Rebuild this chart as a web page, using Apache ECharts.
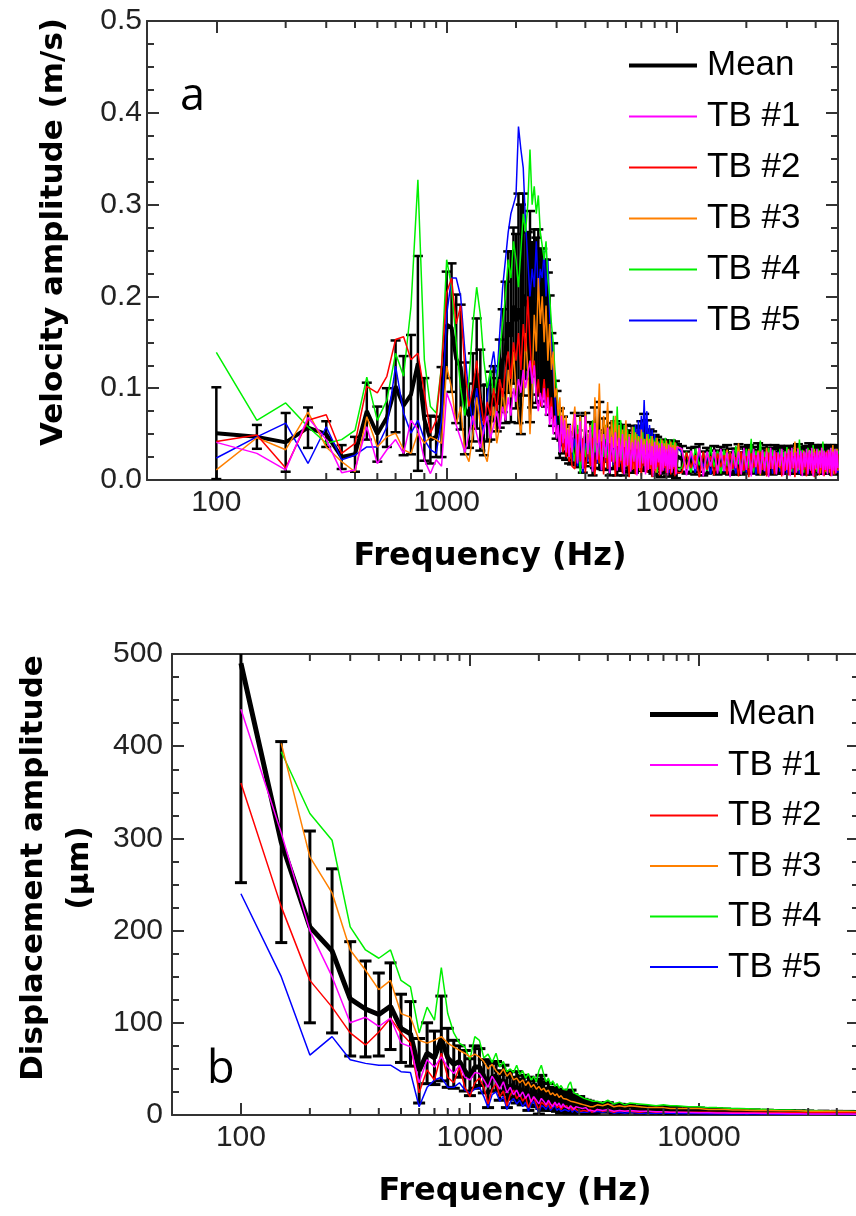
<!DOCTYPE html>
<html><head><meta charset="utf-8">
<script src="https://cdn.jsdelivr.net/npm/echarts@6/dist/echarts.min.js"></script>
<style>
html,body{margin:0;padding:0;background:#fff;overflow:hidden;width:856px;height:1216px;position:relative}
#c1{position:absolute;left:0;top:0;width:862px;height:608px}
#c2{position:absolute;left:0;top:608px;width:862px;height:608px}
</style></head><body><div id="c1"></div><div id="c2"></div>
<script>
// ---------- shared ----------
const TB_NAMES = ['TB #1','TB #2','TB #3','TB #4','TB #5'];
const TB_COLORS = ['#ff00ff','#ff0000','#ff8000','#00f000','#0000ff'];
const xMinorTicks = [200,300,400,500,600,700,800,900,2000,3000,4000,5000,6000,7000,8000,9000,20000,30000,40000];
const yTicksVel = [0,0.1,0.2,0.3,0.4,0.5];
const yTicksDisp = [0,100,200,300,400,500];
const freqLow = [100,150,200,250,300,350,400,450,500,550,
600,650,700,750,800,850,900,950,1000,1050,
1100,1150,1200,1250,1300,1350,1400,1450,1500,1550,
1600,1650,1700,1750,1800,1850,1900,1950,2000,2050,
2100,2150,2200,2250,2300,2350,2400,2450,2500,2550,
2600,2650,2700,2750,2800,2850,2900,2950,3000,3050,
3100,3150,3200,3250,3300,3350,3400,3450,3500];

// ---------- panel a: velocity (m/s) ----------
const velFreqHigh = [3600,3700,3800,3900,4000,4100,4200,4300,4400,4500,
4600,4700,4800,4900,5000,5100,5200,5300,5400,5500,
5600,5700,5800,5900,6000,6100,6200,6300,6400,6500,
6600,6700,6800,6900,7000,7100,7200,7300,7400,7500,
7600,7700,7800,7900,8000,8100,8200,8300,8400,8500,
8600,8700,8800,8900,9000,9100,9200,9300,9400,9500,
9600,9700,9800,9900,10000,
10500,11000,11500,12000,12500,13000,13500,14000,14500,15000,
15500,16000,16500,17000,17500,18000,18500,19000,19500,20000,
20500,21000,21500,22000,22500,23000,23500,24000,24500,25000,
25500,26000,26500,27000,27500,28000,28500,29000,29500,30000,
30500,31000,31500,32000,32500,33000,33500,34000,34500,35000,
35500,36000,36500,37000,37500,38000,38500,39000,39500,40000,
40500,41000,41500,42000,42500,43000,43500,44000,44500,45000,
45500,46000,46500,47000,47500,48000,48500,49000,49500,50000];

const velTB1Low = [.041,.029,.011,.068,.044,.008,.011,.058,.018,.033,
.044,.029,.065,.055,.022,.007,.022,.015,.095,.08,
.06,.045,.03,.05,.07,.05,.035,.055,.07,.045,
.06,.075,.055,.08,.065,.09,.07,.1,.085,.11,
.095,.12,.1,.115,.13,.105,.125,.09,.075,.095,
.08,.1,.07,.09,.06,.08,.05,.07,.045,.06,
.03,.07,.04,.065,.03,.055,.025,.06,.03];
const velTB1High = [.072,.018,.064,.012,.07,.028,.058,.009,.062,.022,
.055,.011,.05,.024,.057,.007,.047,.019,.052,.01,
.046,.021,.05,.006,.043,.016,.047,.009,.041,.02,
.044,.005,.042,.013,.045,.018,.039,.006,.043,.011,
.04,.016,.037,.004,.041,.012,.038,.019,.035,.006,
.04,.01,.037,.015,.034,.005,.038,.012,.036,.008,
.035,.014,.033,.006,.036,
.034,.005,.032,.012,.035,.004,.031,.015,.033,.007,
.034,.01,.03,.003,.033,.013,.031,.006,.035,.011,
.032,.004,.034,.014,.03,.007,.033,.01,.031,.003,
.035,.012,.032,.006,.03,.015,.034,.005,.031,.011,
.033,.004,.035,.013,.03,.008,.034,.011,.032,.004,
.031,.014,.034,.006,.032,.01,.035,.004,.03,.012,
.034,.007,.031,.013,.035,.005,.032,.011,.03,.006,
.033,.012,.035,.004,.031,.01,.034,.007,.032,.013];

const velTB2Low = [.042,.049,.013,.065,.071,.029,.04,.102,.095,.113,
.153,.156,.131,.138,.095,.051,.065,.124,.204,.22,
.17,.19,.12,.08,.1,.13,.09,.06,.085,.07,
.1,.075,.11,.09,.12,.14,.11,.15,.13,.16,
.12,.17,.14,.2,.15,.11,.13,.09,.11,.08,
.09,.11,.08,.1,.07,.09,.06,.07,.05,.055,
.035,.05,.03,.045,.025,.04,.02,.035,.015];
const velTB2High = [.012,.05,.02,.045,.008,.04,.015,.046,.005,.038,
.018,.042,.006,.035,.012,.04,.02,.033,.004,.037,
.014,.03,.007,.036,.016,.028,.003,.033,.011,.03,
.006,.034,.013,.028,.004,.031,.015,.027,.008,.032,
.012,.029,.003,.026,.01,.03,.014,.027,.005,.024,
.009,.03,.013,.026,.004,.031,.011,.027,.006,.025,
.012,.028,.004,.03,.008,
.008,.03,.013,.027,.003,.031,.011,.026,.005,.029,
.014,.027,.006,.03,.012,.025,.004,.031,.01,.026,
.003,.029,.013,.027,.007,.031,.011,.025,.004,.03,
.012,.026,.006,.03,.014,.028,.004,.025,.01,.029,
.005,.031,.012,.026,.003,.03,.013,.027,.006,.029,
.011,.025,.004,.03,.012,.028,.007,.026,.003,.031,
.013,.027,.005,.03,.011,.026,.004,.029,.009,.032,
.012,.026,.004,.03,.01,.027,.006,.031,.011,.028];

const velTB3Low = [.011,.046,.033,.074,.036,.02,.009,.069,.036,.047,
.051,.033,.029,.051,.04,.047,.044,.04,.124,.1,
.06,.08,.03,.02,.05,.09,.06,.03,.02,.05,
.08,.04,.06,.1,.07,.12,.09,.14,.1,.07,
.05,.09,.16,.12,.05,.1,.18,.14,.22,.17,
.2,.15,.19,.13,.17,.12,.14,.09,.1,.07,
.09,.05,.08,.04,.07,.03,.06,.035,.05];
const velTB3High = [.08,.03,.07,.02,.075,.035,.06,.015,.09,.04,
.105,.03,.07,.045,.085,.02,.065,.035,.07,.025,
.06,.02,.055,.03,.065,.015,.05,.025,.058,.012,
.052,.022,.048,.01,.055,.02,.045,.015,.05,.018,
.045,.012,.048,.02,.042,.008,.046,.017,.04,.01,
.044,.015,.04,.02,.043,.008,.039,.014,.042,.01,
.038,.016,.041,.007,.037,
.033,.012,.031,.018,.034,.006,.03,.015,.032,.01,
.029,.017,.033,.008,.031,.014,.04,.006,.03,.016,
.034,.009,.03,.015,.032,.005,.031,.013,.035,.008,
.03,.016,.032,.007,.029,.013,.033,.009,.031,.015,
.034,.006,.03,.014,.042,.009,.035,.012,.029,.007,
.032,.015,.03,.008,.033,.013,.031,.005,.034,.011,
.03,.016,.032,.007,.035,.012,.029,.009,.031,.014,
.033,.008,.031,.015,.038,.006,.03,.013,.034,.01];

const velTB4Low = [.139,.065,.084,.058,.04,.044,.054,.112,.065,.087,
.138,.113,.189,.327,.131,.08,.073,.124,.24,.21,
.15,.1,.07,.11,.17,.21,.18,.13,.1,.12,
.09,.11,.14,.17,.2,.24,.22,.26,.24,.21,
.25,.29,.27,.3,.36,.3,.32,.29,.31,.27,
.27,.24,.26,.22,.2,.17,.15,.12,.1,.08,
.07,.05,.06,.04,.05,.035,.045,.03,.04];
const velTB4High = [.02,.06,.007,.045,.025,.05,.015,.065,.03,.055,
.018,.05,.025,.06,.012,.055,.03,.07,.02,.08,
.025,.065,.015,.06,.022,.055,.012,.05,.02,.058,
.015,.05,.022,.047,.01,.052,.018,.045,.012,.05,
.02,.048,.01,.044,.016,.046,.008,.042,.015,.045,
.012,.043,.018,.046,.009,.04,.015,.044,.01,.041,
.016,.045,.008,.04,.012,
.013,.031,.008,.034,.016,.03,.01,.036,.014,.032,
.007,.033,.015,.031,.011,.037,.017,.03,.009,.034,
.013,.045,.008,.032,.016,.043,.011,.031,.007,.035,
.015,.033,.01,.03,.017,.034,.008,.031,.012,.036,
.016,.032,.009,.034,.014,.031,.01,.044,.015,.033,
.008,.03,.013,.035,.017,.032,.01,.038,.014,.031,
.009,.034,.016,.032,.011,.042,.015,.03,.008,.033,
.013,.031,.01,.035,.016,.033,.009,.034,.014,.032];

const velTB5Low = [.024,.047,.062,.018,.058,.022,.027,.036,.036,.058,
.124,.073,.051,.065,.044,.033,.029,.065,.18,.22,
.22,.2,.14,.09,.06,.1,.07,.05,.09,.12,
.14,.11,.16,.21,.24,.27,.29,.3,.31,.385,
.36,.34,.28,.24,.2,.23,.21,.26,.2,.23,
.22,.25,.2,.24,.18,.15,.12,.09,.06,.05,
.03,.045,.035,.05,.03,.04,.025,.035,.02];
const velTB5High = [.045,.015,.05,.008,.04,.02,.055,.012,.045,.018,
.05,.01,.045,.02,.048,.008,.052,.016,.044,.012,
.048,.018,.05,.01,.055,.02,.05,.015,.058,.025,
.06,.03,.065,.035,.07,.04,.087,.045,.075,.03,
.06,.025,.055,.02,.05,.015,.045,.018,.042,.012,
.04,.015,.038,.01,.041,.016,.036,.008,.039,.013,
.037,.012,.04,.009,.035,
.03,.012,.029,.008,.031,.014,.028,.006,.03,.011,
.029,.009,.031,.013,.027,.007,.03,.012,.032,.008,
.028,.014,.03,.006,.029,.011,.031,.009,.027,.013,
.03,.007,.028,.012,.031,.009,.029,.014,.027,.006,
.031,.011,.028,.008,.03,.013,.027,.007,.03,.01,
.029,.012,.027,.007,.03,.011,.028,.009,.031,.013,
.027,.008,.03,.012,.028,.006,.031,.01,.029,.011,
.03,.009,.028,.013,.029,.007,.03,.011,.028,.008];

const velMeanLow = [.051,.047,.041,.057,.050,.025,.028,.075,.050,.068,
.102,.081,.093,.127,.066,.044,.047,.074,.169,.166,
.132,.123,.078,.070,.090,.116,.087,.065,.073,.081,
.094,.082,.105,.130,.139,.172,.156,.190,.173,.187,
.175,.202,.190,.195,.178,.169,.193,.174,.183,.169,
.172,.170,.160,.156,.136,.122,.104,.088,.071,.063,
.051,.053,.049,.048,.041,.040,.035,.039,.031];
const velMeanHigh = [.046,.035,.042,.026,.044,.035,.041,.029,.046,.035,
.049,.029,.039,.037,.043,.026,.043,.035,.038,.033,
.039,.031,.035,.028,.04,.027,.032,.026,.038,.029,
.035,.028,.038,.027,.037,.032,.041,.028,.038,.028,
.035,.026,.031,.023,.032,.022,.03,.025,.027,.019,
.029,.023,.029,.023,.026,.02,.028,.021,.027,.019,
.028,.023,.025,.018,.026,
.023,.019,.022,.021,.024,.018,.021,.02,.023,.019,
.022,.02,.023,.018,.021,.02,.024,.018,.022,.021,
.023,.02,.022,.02,.024,.019,.021,.02,.023,.019,
.022,.02,.023,.019,.022,.022,.023,.019,.021,.021,
.023,.019,.022,.02,.023,.02,.024,.02,.022,.019,
.021,.02,.022,.019,.024,.02,.022,.018,.023,.02,
.022,.02,.023,.02,.023,.019,.022,.02,.023,.019,
.022,.02,.023,.02,.022,.019,.023,.02,.022,.02];

const velSdLow = [.05,.013,.032,.022,.014,.013,.019,.031,.03,.032,
.05,.054,.065,.117,.045,.026,.022,.049,.058,.07,
.07,.068,.05,.035,.048,.06,.055,.038,.031,.037,
.03,.029,.048,.056,.077,.077,.093,.085,.095,.125,
.125,.11,.08,.075,.115,.09,.08,.09,.09,.083,
.08,.07,.08,.07,.065,.038,.045,.02,.026,.012,
.027,.01,.02,.01,.019,.009,.017,.012,.014];
const velSdHigh = [.027,.019,.028,.018,.029,.011,.022,.024,.033,.016,
.036,.017,.028,.017,.031,.021,.019,.022,.026,.028,
.019,.021,.022,.023,.02,.018,.022,.018,.021,.021,
.022,.017,.021,.016,.027,.013,.031,.016,.027,.016,
.02,.014,.022,.016,.017,.017,.017,.011,.015,.016,
.015,.014,.012,.016,.017,.016,.013,.017,.016,.014,
.012,.014,.017,.016,.013,
.014,.012,.013,.015,.015,.013,.014,.012,.014,.013,
.014,.013,.015,.012,.013,.014,.015,.012,.014,.013,
.015,.013,.014,.012,.016,.013,.014,.012,.015,.012,
.013,.014,.015,.012,.013,.015,.014,.012,.013,.014,
.014,.012,.015,.013,.014,.013,.015,.012,.014,.012,
.013,.014,.015,.012,.016,.013,.014,.012,.015,.013,
.014,.012,.015,.013,.015,.012,.014,.013,.015,.012,
.014,.013,.015,.012,.014,.013,.015,.012,.014,.013];

// ---------- panel b: displacement (µm) ----------
const dispFreqHigh = [3600,3800,4000,4250,4500,4750,5000,5500,6000,6500,
7000,7500,8000,9000,10000,11000,12000,13000,14000,15000,
17500,20000,22500,25000,27500,30000,35000,40000,45000,50000];

const dispTB1Low = [440,306,200,150,100,106,96,105,78,74,
35,60,52,63,52,45,54,41,38,46,
45,38,30,42,35,28,36,24,30,22,
27,20,25,18,23,14,20,16,12,18,
15,11,16,12,9,14,10,13,8,12,
9,11,7,10,8,6,9,7,8,6,
7,5,8,6,5,7,5,6,4];
const dispTB1High = [6,5,6,4,5,4,5,4,4,3.5,3.5,3,3,2.8,2.5,2.4,2.2,2.1,2,2,1.8,1.6,1.5,1.4,1.3,1.2,1.1,1,1,0.9];

const dispTB2Low = [360,226,146,117,89,76,90,105,89,78,
24,49,38,67,41,35,52,30,20,35,
40,30,12,28,34,20,26,10,22,27,
18,22,15,20,8,16,19,12,5,14,
12,9,14,7,11,13,8,10,6,9,
8,10,6,9,5,8,7,5,7,4,
6,5,7,4,5,6,3,5,4];
const dispTB2High = [6,4,5,3,5,4,4,3,4,3,3.5,3,3,3,3,3,2.8,2.8,2.7,2.7,2.6,2.6,2.5,2.5,2.5,2.5,2.5,2.5,2.5,2.5];

const dispTB3Low = [null,403,280,241,179,157,136,146,110,106,
81,78,81,85,78,74,70,67,63,66,
63,58,50,55,48,44,50,42,46,38,
40,35,38,32,36,30,33,28,31,27,
29,25,27,22,24,21,23,19,21,18,
19,17,18,15,16,14,15,13,14,12,
13,11,12,10,11,9,10,9,9];
const dispTB3High = [11,10,12,9,10,9,10,9,8,8,8,7,7,7,7,6,6,6,5.5,5.5,5,5,4.5,4.5,4.5,4,4,4,3.8,3.6];

const dispTB4Low = [null,394,327,298,204,179,170,179,146,139,
89,117,103,160,110,89,78,74,60,85,
81,62,66,57,67,52,58,47,50,46,
54,44,48,40,45,38,42,36,48,54,
44,36,40,33,37,31,34,29,32,28,
30,27,33,36,28,24,26,22,24,20,
21,18,20,17,18,16,17,15,16];
const dispTB4High = [15,13,16,12,14,11,13,12,11,10,11,10,10,9,9,8,8,7.5,7,7,6.5,6,5.5,5.5,5,5,4.5,4.2,4,3.8];

const dispTB5Low = [240,150,65,85,60,56,54,54,47,46,
9,30,38,41,30,30,35,27,24,28,
30,20,8,22,25,15,20,6,14,18,
12,16,9,14,4,12,15,8,3,10,
9,6,11,5,8,10,5,7,4,6,
6,8,4,7,3,6,5,3,5,3,
4,3,5,3,4,4,2,3,3];
const dispTB5High = [4,3,4,2,3,2,3,2,2,2,2,1.8,1.7,1.6,1.5,1.4,1.3,1.2,1.2,1.1,1,1,0.9,0.9,0.8,0.8,0.7,0.7,0.6,0.6];

const dispMeanLow = [490,296,204,178,126,115,109,118,94,88,
48,67,62,83,62,55,58,48,41,52,
52,42,33,41,42,32,38,26,32,30,
30,27,27,25,23,22,26,20,20,25,
22,17,22,16,18,18,16,16,14,15,
14,15,14,15,12,12,12,10,12,9,
10,8,10,8,9,8,7,8,7];
const dispMeanHigh = [8.4,7,8.6,6,7.4,6,7,6,5.8,5.3,5.6,5,4.9,4.7,4.6,4.2,4.1,3.9,3.7,3.7,3.4,3.2,3,2.9,2.8,2.7,2.6,2.5,2.4,2.3];

const dispSdLow = [238,109,104,89,62,52,45,47,37,35,
35,33,29,46,32,26,17,22,20,23,
20,18,25,15,16,16,16,18,15,11,
17,12,16,11,18,11,11,11,19,18,
14,12,12,11,12,8,12,9,12,9,
10,8,12,12,10,8,8,8,8,7,
7,6,6,6,6,5,6,5,5];
const dispSdHigh = [4.5,4,4.8,3.9,4.2,3.6,4,3.8,3.4,3.2,3.5,3.3,3.3,3,3,2.6,2.7,2.5,2.3,2.3,2.2,2,1.9,1.9,1.8,1.7,1.6,1.5,1.5,1.4];

// ---------- rendering ----------
const NUM_FONT = "'Liberation Sans', Arial, sans-serif";
const AXC = '#333';

function errRender(capW, lw) {
  return function (params, api) {
    const x = api.value(0);
    const p1 = api.coord([x, api.value(1)]);
    const p2 = api.coord([x, api.value(2)]);
    const mk = (a, b, c, d) => ({type: 'line', shape: {x1: a, y1: b, x2: c, y2: d}, style: {stroke: '#000', lineWidth: lw}});
    return {type: 'group', children: [
      mk(p1[0], p1[1], p2[0], p2[1]),
      mk(p1[0] - capW, p1[1], p1[0] + capW, p1[1]),
      mk(p2[0] - capW, p2[1], p2[0] + capW, p2[1])
    ]};
  };
}
function minorRender(params, api) {
  const cs = params.coordSys;
  const px = api.coord([api.value(0), api.value(1)])[0];
  const st = () => ({stroke: AXC, lineWidth: 2});
  return {type: 'group', children: [
    {type: 'line', shape: {x1: px, y1: cs.y, x2: px, y2: cs.y + 7}, style: st()},
    {type: 'line', shape: {x1: px, y1: cs.y + cs.height, x2: px, y2: cs.y + cs.height - 7}, style: st()}
  ]};
}

function build(cfg) {
  const pairs = vals => cfg.freq.map((f, i) => [f, vals[i] == null ? null : vals[i]]);
  const err = cfg.freq.map((f, i) => [f, cfg.mean[i] - cfg.sd[i], cfg.mean[i] + cfg.sd[i]]);
  const axisLine = {show: true, onZero: false, lineStyle: {color: AXC, width: 2}};
  const tick = {show: true, inside: true, length: 12, lineStyle: {color: AXC, width: 2}};
  const minor = {show: true, splitNumber: 4, length: 7, lineStyle: {color: AXC, width: 2}};
  const lbl = {fontFamily: NUM_FONT, fontSize: 30, color: '#222'};
  const xBase = {type: 'log', logBase: 10, min: 50, max: 50000, axisLine, axisTick: tick,
    splitLine: {show: false}, minorTick: {show: false}};
  const yBase = {type: 'value', min: 0, max: cfg.yTicks[cfg.yTicks.length - 1], interval: cfg.yTicks[1] - cfg.yTicks[0],
    axisLine, axisTick: tick, minorTick: minor, splitLine: {show: false}, minorSplitLine: {show: false}};
  const series = [];
  series.push({type: 'custom', name: 'errbar', renderItem: errRender(cfg.capW, cfg.errW), data: err,
    encode: {x: 0, y: [1, 2]}, clip: true, silent: true, z: 2});
  series.push({type: 'line', name: 'Mean', data: pairs(cfg.mean), showSymbol: false, symbol: 'none',
    lineStyle: {color: '#000', width: cfg.meanW}, itemStyle: {color: '#000'}, clip: true, z: 2});
  for (let k = 4; k >= 0; k--) {
    series.push({type: 'line', name: TB_NAMES[k], data: pairs(cfg.tb[k]), showSymbol: false, symbol: 'none',
      lineStyle: {color: TB_COLORS[k], width: 1.5}, itemStyle: {color: TB_COLORS[k]}, clip: true, z: 2});
  }
  series.push({type: 'custom', name: 'minorticks', renderItem: minorRender, data: xMinorTicks.map(v => [v, 0]),
    encode: {x: 0, y: 1}, silent: true, z: 10});
  const legendData = [{name: 'Mean', icon: 'path://M0 0H68V' + cfg.meanW + 'H0Z'}]
    .concat(TB_NAMES.map(n => ({name: n, icon: 'path://M0 0H68V2H0Z'})));
  return {
    animation: false,
    grid: cfg.grid,
    xAxis: [
      Object.assign({}, xBase, {position: 'bottom', axisLabel: Object.assign({}, lbl, {margin: 8, interval: 0,
        showMinLabel: false, showMaxLabel: false, formatter: v => String(Math.round(v))})}),
      Object.assign({}, xBase, {position: 'top', axisLabel: {show: false}})
    ],
    yAxis: [
      Object.assign({}, yBase, {position: 'left', axisLabel: Object.assign({}, lbl, {margin: cfg.yMargin, formatter: cfg.yFmt})}),
      Object.assign({}, yBase, {position: 'right', axisLabel: {show: false}})
    ],
    legend: {orient: 'vertical', left: cfg.legLeft, top: cfg.legTop, itemWidth: 68, itemHeight: 14,
      itemGap: cfg.legGap, selectedMode: false, data: legendData, symbolKeepAspect: true,
      itemStyle: {borderWidth: 0},
      textStyle: {fontFamily: NUM_FONT, fontSize: 35, color: '#000', padding: [0, 0, 0, 5]}},
    graphic: cfg.graphic,
    series
  };
}

const TITLE_FONT = "bold 32px 'DejaVu Sans', sans-serif";
const YTITLE_FONT = "bold 31px 'DejaVu Sans', sans-serif";
const PANEL_FONT = "45px 'Open Sans', sans-serif";

const chartA = echarts.init(document.getElementById('c1'));
chartA.setOption(build({
  freq: freqLow.concat(velFreqHigh),
  tb: [velTB1Low.concat(velTB1High), velTB2Low.concat(velTB2High), velTB3Low.concat(velTB3High),
       velTB4Low.concat(velTB4High), velTB5Low.concat(velTB5High)],
  mean: velMeanLow.concat(velMeanHigh),
  sd: velSdLow.concat(velSdHigh),
  yTicks: yTicksVel, yFmt: v => v.toFixed(1), yMargin: 5,
  grid: {left: 147, top: 21, width: 691, height: 459},
  meanW: 4, errW: 2.5, capW: 5,
  legLeft: 624, legTop: 43, legGap: 16,
  graphic: [
    {type: 'text', x: 180, y: 97, style: {text: 'a', font: PANEL_FONT, fill: '#000', align: 'left', verticalAlign: 'middle'}},
    {type: 'text', x: 490, y: 557, style: {text: 'Frequency (Hz)', font: TITLE_FONT, fill: '#000', align: 'center', verticalAlign: 'middle'}},
    {type: 'text', x: 54, y: 232, rotation: Math.PI / 2, style: {text: 'Velocity amplitude (m/s)', font: YTITLE_FONT, fill: '#000', align: 'center', verticalAlign: 'middle'}}
  ]
}));

const chartB = echarts.init(document.getElementById('c2'));
chartB.setOption(build({
  freq: freqLow.concat(dispFreqHigh),
  tb: [dispTB1Low.concat(dispTB1High), dispTB2Low.concat(dispTB2High), dispTB3Low.concat(dispTB3High),
       dispTB4Low.concat(dispTB4High), dispTB5Low.concat(dispTB5High)],
  mean: dispMeanLow.concat(dispMeanHigh),
  sd: dispSdLow.concat(dispSdHigh),
  yTicks: yTicksDisp, yFmt: v => String(v), yMargin: 9,
  grid: {left: 172, top: 46, width: 687, height: 461},
  meanW: 5, errW: 3, capW: 6,
  legLeft: 645, legTop: 84, legGap: 15.5,
  graphic: [
    {type: 'text', x: 207, y: 462, style: {text: 'b', font: PANEL_FONT, fill: '#000', align: 'left', verticalAlign: 'middle'}},
    {type: 'text', x: 515, y: 584, style: {text: 'Frequency (Hz)', font: TITLE_FONT, fill: '#000', align: 'center', verticalAlign: 'middle'}},
    {type: 'text', x: 57, y: 260, rotation: Math.PI / 2, style: {text: 'Displacement amplitude\n(µm)', font: YTITLE_FONT, lineHeight: 46, fill: '#000', align: 'center', verticalAlign: 'middle'}}
  ]
}));
</script></body></html>
